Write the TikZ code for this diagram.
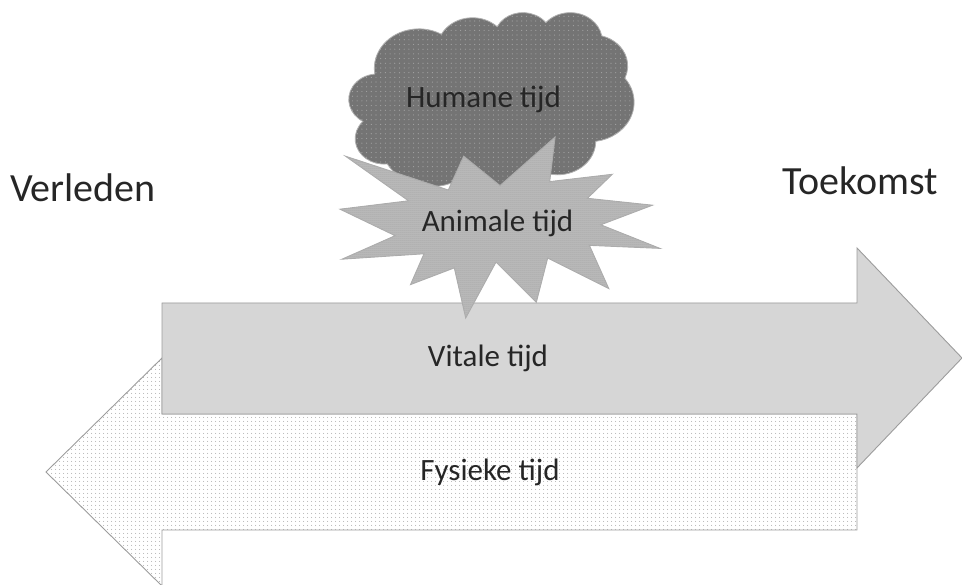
\documentclass[tikz,border=0pt]{standalone}
\usepackage{fontspec}
\setmainfont{Carlito}
\usetikzlibrary{patterns.meta}

\definecolor{edgegray}{HTML}{9C9C9C}
\definecolor{cloudfill}{HTML}{747474}
\definecolor{clouddots}{HTML}{A4A4A4}
\definecolor{starfill}{HTML}{BDBDBD}
\definecolor{stardots}{HTML}{8A8A8A}
\definecolor{vitalfill}{HTML}{DADADA}
\definecolor{vitaldots}{HTML}{B0B0B0}
\definecolor{physdots}{HTML}{A6A6A6}
\definecolor{textdark}{HTML}{262626}

\begin{document}
\begin{tikzpicture}[x=1pt, y=1pt,
  outline/.style={draw=edgegray, line width=0.9pt, line join=miter},
  physical/.style={outline,
    preaction={fill=white},
    preaction={pattern={Dots[distance=4pt, radius=0.6pt]}, pattern color=physdots}},
  vital/.style={outline,
    preaction={fill=vitalfill},
    preaction={pattern={Dots[distance=2pt, radius=0.45pt]}, pattern color=vitaldots}},
  humane/.style={draw=edgegray!80, line width=0.8pt,
    preaction={fill=cloudfill},
    preaction={pattern={Dots[distance=4.7pt, radius=0.6pt]}, pattern color=clouddots}},
  animal/.style={outline, draw=edgegray!110!black,
    preaction={fill=starfill},
    preaction={pattern={Dots[distance=2pt, radius=0.5pt]}, pattern color=stardots}},
  caption/.style={font=\fontsize{31}{36}\selectfont, text=textdark, inner sep=0pt, anchor=base},
  sidelabel/.style={font=\fontsize{40}{48}\selectfont, text=textdark, inner sep=0pt, anchor=base west}]

\useasboundingbox (0,0) rectangle (962,585);

% physical time: wide arrow pointing back to the past
\path[physical]
  (46,113) -- (162,227) -- (162,171) -- (857,171) -- (857,55)
  -- (162,55) -- (162,-1) -- cycle;

% vital time: wide arrow pointing on to the future
\path[vital]
  (162,282) -- (857,282) -- (857,337) -- (962,227) -- (857,117)
  -- (857,171) -- (162,171) -- cycle;

% human time: cloud outline built from elliptic arcs
\path[humane] (374.73,511.46)
  arc[start angle=187.75, end angle=59.64,   x radius=44.55, y radius=39.36]
  arc[start angle=152.03, end angle=45.42,   x radius=35.18, y radius=31.12]
  arc[start angle=153.48, end angle=37.32,   x radius=28.80, y radius=25.46]
  arc[start angle=139.68, end angle=10.21,   x radius=32.04, y radius=28.24]
  arc[start angle=74.77,  end angle=-23.21,  x radius=35.18, y radius=31.15]
  arc[start angle=37.52,  end angle=-81.86,  x radius=44.70, y radius=39.48]
  arc[start angle=-0.46,  end angle=-121.98, x radius=38.17, y radius=33.69]
  arc[start angle=-16.85, end angle=-146.24, x radius=44.54, y radius=39.46]
  arc[start angle=-58.99, end angle=-150.20, x radius=50.93, y radius=45.15]
  arc[start angle=-83.31, end angle=-223.11, x radius=28.76, y radius=25.34]
  arc[start angle=-120.36,end angle=-264.11, x radius=28.66, y radius=25.46]
  -- cycle;

% animal time: twelve-point explosion
\path[animal]
  (500,399.4) -- (555.1,448) -- (549.7,403.4) -- (612.3,410.7)
  -- (587.4,386.7) -- (652.5,379.8) -- (600.8,360.2) -- (660,336.6)
  -- (589.4,339.6) -- (608.8,296.4) -- (547.7,326.9) -- (536.3,282.6)
  -- (496.0,322.9) -- (465.7,267) -- (454.3,317.1) -- (410.5,300.4)
  -- (424.0,331.2) -- (342.0,325.8) -- (395.1,349.3) -- (340,375.8)
  -- (408.5,384.2) -- (345.5,428.8) -- (448.3,395) -- (463.7,428.8)
  -- cycle;

% captions
\node[caption] (humaneLabel)  at (483.5,477) {Humane tijd};
\node[caption] (animalLabel)  at (497.5,353.3) {Animale tijd};
\node[caption] (vitalLabel)   at (488,218) {Vitale tijd};
\node[caption] (physLabel)    at (490,104) {Fysieke tijd};
\node[sidelabel] (pastLabel)   at (10,383.3) {Verleden};
\node[sidelabel] (futureLabel) at (782,390) {Toekomst};

\end{tikzpicture}
\end{document}
